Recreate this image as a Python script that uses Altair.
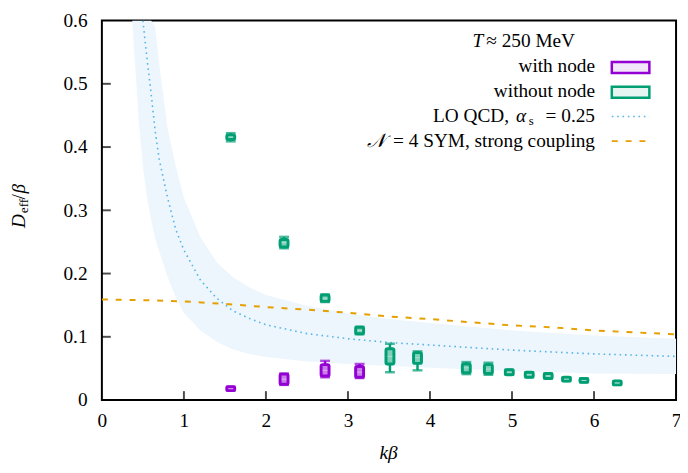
import altair as alt
import pandas as pd

# ---- lattice data: without node (green)
k_wo = [1.571, 2.221, 2.721, 3.142, 3.512, 3.848, 4.443, 4.712, 4.967, 5.210, 5.441, 5.664, 5.877, 6.283]
d_wo = [0.416, 0.249, 0.161, 0.110, 0.069, 0.067, 0.051, 0.049, 0.044, 0.040, 0.038, 0.033, 0.031, 0.027]
wo_box_lo = [0.412, 0.242, 0.156, 0.105, 0.057, 0.058, 0.043, 0.042, 0.040, 0.036, 0.034, 0.030, 0.028, 0.024]
wo_box_hi = [0.419, 0.254, 0.166, 0.115, 0.081, 0.075, 0.057, 0.056, 0.048, 0.044, 0.042, 0.036, 0.034, 0.030]
wo_err_lo = [0.409, 0.240, 0.155, 0.104, 0.044, 0.047, 0.041, 0.040, 0.040, 0.036, 0.034, 0.030, 0.028, 0.024]
wo_err_hi = [0.422, 0.258, 0.167, 0.116, 0.089, 0.077, 0.060, 0.059, 0.048, 0.044, 0.042, 0.036, 0.034, 0.030]

# ---- lattice data: with node (purple)
k_w = [1.571, 2.221, 2.721, 3.142]
d_w = [0.018, 0.033, 0.047, 0.044]
w_box_lo = [0.015, 0.025, 0.038, 0.036]
w_box_hi = [0.021, 0.041, 0.056, 0.053]
w_err_lo = [0.015, 0.024, 0.036, 0.035]
w_err_hi = [0.021, 0.042, 0.062, 0.057]

# ---- LO QCD (alpha_s = 0.25) central curve and band
qcd_k = [0.50, 0.55, 0.60, 0.65, 0.70, 0.80, 0.90, 1.00, 1.20, 1.40, 1.60, 1.80, 2.00, 2.50, 3.00, 3.50, 4.00, 5.00, 6.00, 7.00]
qcd_d = [0.600, 0.540, 0.485, 0.425, 0.380, 0.320, 0.270, 0.237, 0.190, 0.161, 0.141, 0.129, 0.119, 0.105, 0.097, 0.091, 0.087, 0.079, 0.073, 0.069]

band_k = [0.37, 0.45, 0.50, 0.55, 0.60, 0.65, 0.70, 0.80, 0.90, 1.00, 1.20, 1.40, 1.60, 1.80, 2.00, 2.50, 3.00, 3.50, 4.00, 5.00, 6.00, 7.00]
band_lo = [0.600, 0.440, 0.370, 0.320, 0.285, 0.255, 0.235, 0.195, 0.163, 0.138, 0.110, 0.092, 0.080, 0.073, 0.068, 0.061, 0.057, 0.054, 0.051, 0.046, 0.042, 0.041]
band_hi = [0.600, 0.600, 0.600, 0.600, 0.600, 0.590, 0.530, 0.430, 0.370, 0.320, 0.258, 0.218, 0.194, 0.178, 0.166, 0.149, 0.137, 0.128, 0.122, 0.110, 0.102, 0.097]

# ---- N=4 SYM strong coupling
sym_k = [0.0, 0.5, 1.0, 1.5, 2.0, 2.5, 3.0, 3.5, 4.0, 4.5, 5.0, 5.5, 6.0, 6.5, 7.0]
sym_d = [0.159, 0.158, 0.156, 0.152, 0.147, 0.143, 0.138, 0.132, 0.128, 0.123, 0.118, 0.115, 0.110, 0.107, 0.104]

x_ticks = [0, 1, 2, 3, 4, 5, 6, 7]
y_ticks = [0, 0.1, 0.2, 0.3, 0.4, 0.5, 0.6]
x_inner_ticks = [1, 2, 3, 4, 5, 6]
y_inner_ticks = [0.1, 0.2, 0.3, 0.4, 0.5]

GREEN = "#009e73"
PURPLE = "#9400d3"
BLUE = "#56b4e9"
ORANGE = "#e69f00"
FONT = "Liberation Serif, Times New Roman, serif"
FS = 19.5

xs = alt.Scale(domain=[0, 7], nice=False, zero=False, padding=0)
ys = alt.Scale(domain=[0, 0.6], nice=False, padding=0)

X = lambda f: alt.X(f, type="quantitative", scale=xs,
                    axis=alt.Axis(values=x_ticks, format="d", title=None, labelFlush=False))
Y = lambda f: alt.Y(f, type="quantitative", scale=ys,
                    axis=alt.Axis(values=y_ticks, format="~g", title=None, labelFlush=False))

band_df = pd.DataFrame({"k": band_k, "lo": band_lo, "hi": band_hi})
qcd_df = pd.DataFrame({"k": qcd_k, "d": qcd_d})
sym_df = pd.DataFrame({"k": sym_k, "d": sym_d})
wo_df = pd.DataFrame({"k": k_wo, "d": d_wo, "blo": wo_box_lo, "bhi": wo_box_hi,
                      "elo": wo_err_lo, "ehi": wo_err_hi})
w_df = pd.DataFrame({"k": k_w, "d": d_w, "blo": w_box_lo, "bhi": w_box_hi,
                     "elo": w_err_lo, "ehi": w_err_hi})

band = alt.Chart(band_df).mark_area(color="#edf6fd", opacity=1, clip=True).encode(
    x=X("k"), y=Y("lo"), y2="hi")
qcd = alt.Chart(qcd_df).mark_line(color=BLUE, strokeWidth=1.6, strokeDash=[1.6, 3.8], clip=True).encode(
    x=X("k"), y=Y("d"))
sym = alt.Chart(sym_df).mark_line(color=ORANGE, strokeWidth=2, strokeDash=[6, 8], clip=True).encode(
    x=X("k"), y=Y("d"))


def points(df, color, fill, med):
    base = alt.Chart(df)
    whisk = base.mark_rule(color=color, strokeWidth=2.5).encode(x=X("k"), y=Y("elo"), y2="ehi")
    cap_lo = base.mark_tick(color=color, thickness=2.5, size=10, orient="horizontal").encode(x=X("k"), y=Y("elo"))
    cap_hi = base.mark_tick(color=color, thickness=2.5, size=10, orient="horizontal").encode(x=X("k"), y=Y("ehi"))
    box = base.mark_bar(size=8, stroke=color, strokeWidth=3, fill=fill, cornerRadius=1.5).encode(
        x=X("k"), y=Y("blo"), y2="bhi")
    mid = base.mark_tick(color=med, thickness=1, size=5, orient="horizontal").encode(x=X("k"), y=Y("d"))
    return [whisk, cap_lo, cap_hi, box, mid]


def ptxt(text, x, y, align="left", style="normal", size=FS, angle=0, baseline="middle"):
    kw = dict(align=align, baseline=baseline, font=FONT, fontSize=size, fontStyle=style, color="black")
    if angle:
        kw["angle"] = angle
    return alt.Chart(pd.DataFrame({"t": [text]})).mark_text(**kw).encode(
        x=alt.value(x), y=alt.value(y), text="t:N")


one = pd.DataFrame({"a": [0]})
# inward ticks
yt = alt.Chart(pd.DataFrame({"v": y_inner_ticks})).mark_tick(
    color="black", thickness=2, size=9, orient="horizontal").encode(x=alt.value(4.5), y=Y("v"))
xt = alt.Chart(pd.DataFrame({"v": x_inner_ticks})).mark_tick(
    color="black", thickness=2, size=9, orient="vertical").encode(x=X("v"), y=alt.value(384 - 4.5))

# legend
leg = [
    ptxt("T", 375, 21, style="italic"),
    ptxt("≈ 250 MeV", 389, 21),
    ptxt("with node", 499, 46, align="right"),
    ptxt("without node", 499, 71, align="right"),
    ptxt("LO QCD,", 412, 97, align="right"),
    ptxt("α", 419, 97, style="italic"),
    ptxt("s", 432, 102, size=13),
    ptxt("= 0.25", 499, 97, align="right"),
    ptxt("𝒩", 286, 122, align="right", style="italic"),
    ptxt("= 4 SYM, strong coupling", 499, 122, align="right"),
]
sw1 = alt.Chart(one).mark_rect(fill="#f2e6fb", stroke=PURPLE, strokeWidth=2.5).encode(
    x=alt.value(516), x2=alt.value(554), y=alt.value(42), y2=alt.value(53))
sw2 = alt.Chart(one).mark_rect(fill="#e6f5f1", stroke=GREEN, strokeWidth=2.5).encode(
    x=alt.value(516), x2=alt.value(554), y=alt.value(67), y2=alt.value(78))
l3 = alt.Chart(one).mark_rule(color=BLUE, strokeWidth=1.6, strokeDash=[1.6, 3.8]).encode(
    x=alt.value(516), x2=alt.value(554), y=alt.value(97))
l4 = alt.Chart(one).mark_rule(color=ORANGE, strokeWidth=2, strokeDash=[6, 8]).encode(
    x=alt.value(516), x2=alt.value(552), y=alt.value(122))

# axis titles
titles = [
    ptxt("kβ", 290, 444, align="center", style="italic", baseline="alphabetic"),
    ptxt("D", -84, 210, style="italic", angle=270),
    ptxt("eff", -79, 195, size=13.5, angle=270),
    ptxt("/", -84, 181, angle=270),
    ptxt("β", -84, 175, style="italic", angle=270),
]

layers = [band, qcd, sym] + points(wo_df, GREEN, "#7fcfb9", "#bfe7dc") + \
    points(w_df, PURPLE, "#c97fe9", "#e4bff4") + [yt, xt] + leg + [sw1, sw2, l3, l4] + titles

chart = alt.layer(*layers).properties(
    width=581, height=384,
    autosize=alt.AutoSizeParams(type="none"),
    padding={"left": 95, "top": 10, "right": 4, "bottom": 63},
).configure_view(
    stroke="black", strokeWidth=2
).configure_axis(
    domain=False, ticks=False, grid=False, labelFont=FONT, labelFontSize=FS,
    labelColor="black", labelFlush=False
).configure_axisX(labelPadding=12).configure_axisY(labelPadding=15)

chart.save("out.html", embed_options={"renderer": "svg", "actions": False})
